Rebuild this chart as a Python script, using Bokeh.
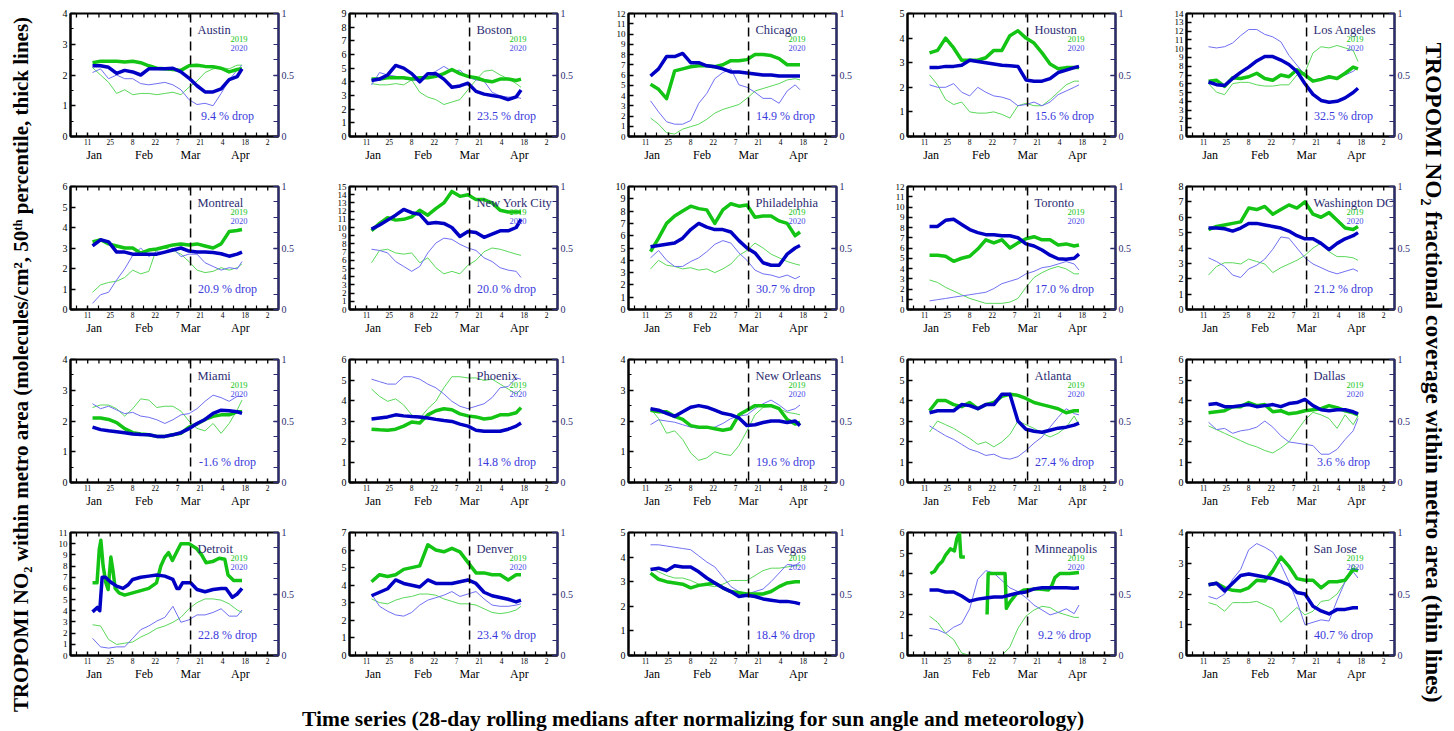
import math
import numpy as np
from bokeh.plotting import figure
from bokeh.layouts import row, column
from bokeh.models import Range1d, LinearAxis, FixedTicker, Span, Label
from bokeh.core.properties import value
from bokeh.embed import file_html
from bokeh.resources import INLINE

# ---------------- data (day of year; 2019 and 2020 on a common Jan-Apr axis) ----------------
DAYS = [14, 19, 24, 29, 34, 39, 44, 49, 54, 59, 64, 69, 74, 79, 84, 89, 94, 99, 104, 107]

DAY_TICKS = [11, 25, 39, 53, 67, 81, 95, 109, 123]
DAY_LABELS = ["11", "25", "8", "22", "7", "21", "4", "18", "2"]
MONTH_TICKS = [15, 46, 75, 106]
MONTH_LABELS = ["Jan", "Feb", "Mar", "Apr"]
EVENT_DAY = 75

CITIES = ["Austin", "Boston", "Chicago", "Houston", "Los Angeles",
          "Montreal", "New York City", "Philadelphia", "Toronto", "Washington DC",
          "Miami", "Phoenix", "New Orleans", "Atlanta", "Dallas",
          "Detroit", "Denver", "Las Vegas", "Minneapolis", "San Jose"]
Y_MAX = [4, 9, 12, 5, 14, 6, 15, 10, 12, 8, 4, 6, 4, 6, 6, 11, 7, 5, 6, 4]
DROP = ["9.4", "23.5", "14.9", "15.6", "32.5", "20.9", "20.0", "30.7", "17.0", "21.2",
        "-1.6", "14.8", "19.6", "27.4", "3.6", "22.8", "23.4", "18.4", "9.2", "40.7"]

AUSTIN_NO2_2019 = [2.40, 2.45, 2.45, 2.45, 2.42, 2.45, 2.40, 2.30, 2.22, 2.20, 2.18, 2.15, 2.30, 2.32, 2.28, 2.27, 2.22, 2.10, 2.18, 2.20]
AUSTIN_NO2_2020 = [2.30, 2.30, 2.25, 2.05, 2.15, 2.10, 2.00, 2.20, 2.20, 2.20, 2.22, 2.10, 1.90, 1.65, 1.45, 1.45, 1.55, 1.85, 1.95, 2.20]
AUSTIN_COV_2019 = [0.56, 0.50, 0.44, 0.35, 0.38, 0.34, 0.35, 0.35, 0.34, 0.35, 0.36, 0.34, 0.40, 0.45, 0.52, 0.55, 0.56, 0.55, 0.58, 0.58]
AUSTIN_COV_2020 = [0.52, 0.55, 0.47, 0.50, 0.47, 0.47, 0.43, 0.42, 0.43, 0.44, 0.42, 0.38, 0.30, 0.26, 0.27, 0.25, 0.35, 0.46, 0.54, 0.58]

BOSTON_NO2_2019 = [4.2, 4.2, 4.3, 4.3, 4.3, 4.2, 4.3, 4.3, 4.4, 4.6, 4.9, 4.6, 4.4, 4.3, 4.1, 4.0, 4.2, 4.2, 4.1, 4.2]
BOSTON_NO2_2020 = [4.1, 4.2, 4.5, 5.2, 5.0, 4.6, 4.0, 4.6, 4.6, 4.2, 3.6, 3.7, 3.9, 3.3, 3.1, 3.0, 2.9, 2.7, 2.9, 3.4]
BOSTON_COV_2019 = [0.43, 0.42, 0.42, 0.43, 0.42, 0.46, 0.36, 0.32, 0.30, 0.26, 0.28, 0.30, 0.38, 0.46, 0.53, 0.54, 0.50, 0.47, 0.43, 0.40]
BOSTON_COV_2020 = [0.42, 0.52, 0.50, 0.49, 0.47, 0.46, 0.45, 0.50, 0.53, 0.57, 0.53, 0.54, 0.48, 0.46, 0.45, 0.36, 0.33, 0.32, 0.32, 0.31]

CHICAGO_NO2_2019 = [5.1, 4.6, 3.7, 6.4, 6.6, 6.8, 6.9, 6.9, 6.8, 7.0, 7.4, 7.4, 7.5, 8.0, 8.0, 7.9, 7.6, 7.0, 7.0, 7.0]
CHICAGO_NO2_2020 = [5.9, 6.6, 7.8, 7.8, 8.1, 7.2, 7.2, 6.9, 6.8, 6.6, 6.3, 6.3, 6.2, 6.1, 6.0, 6.0, 5.9, 5.9, 5.9, 5.9]
CHICAGO_COV_2019 = [0.15, 0.10, 0.03, 0.02, 0.06, 0.08, 0.10, 0.14, 0.19, 0.22, 0.24, 0.26, 0.31, 0.37, 0.39, 0.41, 0.43, 0.46, 0.47, 0.46]
CHICAGO_COV_2020 = [0.29, 0.20, 0.12, 0.10, 0.10, 0.13, 0.27, 0.35, 0.47, 0.52, 0.55, 0.42, 0.40, 0.36, 0.31, 0.31, 0.27, 0.37, 0.42, 0.38]

HOUSTON_NO2_2019 = [3.4, 3.5, 4.0, 3.6, 3.1, 3.1, 3.1, 3.2, 3.5, 3.5, 4.1, 4.3, 4.0, 3.8, 3.4, 2.95, 2.75, 2.8, 2.8, 2.8]
HOUSTON_NO2_2020 = [2.8, 2.8, 2.85, 2.85, 2.9, 3.1, 3.05, 3.0, 2.95, 2.9, 2.88, 2.85, 2.3, 2.25, 2.25, 2.35, 2.6, 2.7, 2.8, 2.85]
HOUSTON_COV_2019 = [0.50, 0.42, 0.30, 0.26, 0.28, 0.20, 0.19, 0.19, 0.20, 0.18, 0.15, 0.25, 0.27, 0.25, 0.25, 0.30, 0.36, 0.42, 0.45, 0.45]
HOUSTON_COV_2020 = [0.42, 0.40, 0.40, 0.43, 0.36, 0.33, 0.40, 0.36, 0.33, 0.32, 0.30, 0.25, 0.26, 0.28, 0.25, 0.28, 0.34, 0.37, 0.40, 0.42]

LA_NO2_2019 = [6.3, 6.4, 5.7, 6.7, 6.6, 6.8, 7.2, 6.6, 6.4, 7.0, 6.8, 7.6, 7.0, 6.3, 6.5, 6.8, 6.6, 7.2, 7.9, 7.7]
LA_NO2_2020 = [6.2, 5.9, 5.8, 6.6, 7.3, 7.9, 8.6, 9.1, 9.1, 8.7, 8.2, 7.4, 6.0, 4.8, 4.1, 3.9, 4.0, 4.4, 5.0, 5.5]
LA_COV_2019 = [0.43, 0.36, 0.34, 0.43, 0.44, 0.44, 0.42, 0.41, 0.41, 0.42, 0.42, 0.50, 0.52, 0.68, 0.73, 0.72, 0.74, 0.72, 0.70, 0.61]
LA_COV_2020 = [0.73, 0.72, 0.73, 0.76, 0.82, 0.87, 0.87, 0.83, 0.81, 0.77, 0.66, 0.58, 0.50, 0.46, 0.47, 0.47, 0.48, 0.50, 0.53, 0.56]

MONTREAL_NO2_2019 = [3.3, 3.4, 3.2, 3.1, 3.0, 3.0, 2.75, 2.9, 2.95, 3.05, 3.15, 3.2, 3.15, 3.2, 3.1, 3.0, 3.2, 3.8, 3.85, 3.9]
MONTREAL_NO2_2020 = [3.1, 3.4, 3.3, 2.8, 2.8, 2.7, 2.7, 2.7, 2.7, 2.8, 2.9, 3.0, 2.85, 2.8, 2.8, 2.78, 2.72, 2.6, 2.7, 2.8]
MONTREAL_COV_2019 = [0.14, 0.20, 0.22, 0.23, 0.26, 0.32, 0.29, 0.31, 0.50, 0.50, 0.48, 0.45, 0.39, 0.32, 0.30, 0.31, 0.34, 0.32, 0.34, 0.37]
MONTREAL_COV_2020 = [0.05, 0.12, 0.14, 0.24, 0.33, 0.44, 0.50, 0.43, 0.47, 0.46, 0.50, 0.43, 0.45, 0.45, 0.38, 0.35, 0.32, 0.34, 0.33, 0.39]

NYC_NO2_2019 = [9.6, 10.5, 11.2, 10.9, 11.0, 11.3, 12.1, 11.5, 12.3, 13.0, 14.4, 13.8, 14.0, 13.4, 13.4, 13.0, 12.1, 11.9, 11.9, 11.9]
NYC_NO2_2020 = [9.8, 10.3, 10.9, 11.5, 12.2, 11.8, 11.6, 10.5, 10.6, 10.5, 10.0, 8.9, 9.5, 9.4, 8.8, 9.2, 9.6, 9.6, 10.0, 11.0]
NYC_COV_2019 = [0.38, 0.48, 0.49, 0.46, 0.45, 0.46, 0.38, 0.42, 0.34, 0.29, 0.31, 0.29, 0.36, 0.40, 0.47, 0.50, 0.49, 0.47, 0.45, 0.44]
NYC_COV_2020 = [0.49, 0.48, 0.46, 0.39, 0.35, 0.31, 0.35, 0.46, 0.54, 0.58, 0.57, 0.53, 0.50, 0.48, 0.42, 0.39, 0.34, 0.32, 0.31, 0.26]

PHILA_NO2_2019 = [4.7, 5.8, 7.0, 7.6, 8.0, 8.4, 8.2, 8.1, 7.0, 8.1, 8.6, 8.4, 8.5, 7.5, 7.6, 7.6, 7.2, 7.0, 6.0, 6.3]
PHILA_NO2_2020 = [5.1, 5.2, 5.3, 5.4, 5.8, 6.5, 7.0, 6.7, 6.5, 6.5, 6.3, 5.6, 5.0, 4.6, 3.8, 3.6, 3.6, 4.5, 5.0, 5.2]
PHILA_COV_2019 = [0.33, 0.40, 0.36, 0.35, 0.33, 0.34, 0.32, 0.33, 0.30, 0.33, 0.37, 0.44, 0.48, 0.54, 0.50, 0.45, 0.42, 0.39, 0.37, 0.36]
PHILA_COV_2020 = [0.42, 0.48, 0.40, 0.35, 0.35, 0.39, 0.42, 0.47, 0.53, 0.56, 0.54, 0.46, 0.40, 0.32, 0.29, 0.28, 0.26, 0.28, 0.25, 0.27]

TORONTO_NO2_2019 = [5.3, 5.3, 5.2, 4.7, 5.0, 5.2, 5.9, 6.8, 6.5, 6.8, 6.0, 6.5, 6.9, 7.1, 6.8, 6.8, 6.3, 6.4, 6.2, 6.3]
TORONTO_NO2_2020 = [8.1, 8.1, 8.7, 8.8, 8.3, 7.8, 7.5, 7.3, 7.3, 7.2, 7.2, 7.0, 6.4, 6.2, 5.8, 5.3, 4.95, 4.9, 5.0, 5.4]
TORONTO_COV_2019 = [0.24, 0.22, 0.18, 0.15, 0.12, 0.09, 0.07, 0.05, 0.05, 0.05, 0.06, 0.09, 0.18, 0.26, 0.30, 0.33, 0.35, 0.33, 0.29, 0.29]
TORONTO_COV_2020 = [0.07, 0.08, 0.09, 0.10, 0.11, 0.12, 0.13, 0.14, 0.17, 0.21, 0.23, 0.25, 0.29, 0.31, 0.34, 0.35, 0.37, 0.39, 0.37, 0.32]

DC_NO2_2019 = [5.2, 5.4, 5.5, 5.6, 5.7, 6.6, 6.5, 6.7, 6.2, 6.5, 6.8, 6.6, 7.0, 6.2, 6.0, 6.3, 5.8, 5.3, 5.2, 5.4]
DC_NO2_2020 = [5.3, 5.3, 5.25, 5.1, 5.3, 5.6, 5.6, 5.5, 5.4, 5.3, 5.1, 4.8, 4.6, 4.6, 4.3, 3.9, 4.3, 4.6, 4.8, 5.0]
DC_COV_2019 = [0.28, 0.35, 0.38, 0.38, 0.37, 0.41, 0.39, 0.37, 0.30, 0.34, 0.37, 0.40, 0.44, 0.50, 0.54, 0.47, 0.43, 0.43, 0.42, 0.40]
DC_COV_2020 = [0.42, 0.39, 0.35, 0.28, 0.26, 0.33, 0.36, 0.41, 0.49, 0.59, 0.58, 0.50, 0.42, 0.37, 0.34, 0.31, 0.29, 0.31, 0.33, 0.31]

MIAMI_NO2_2019 = [2.1, 2.1, 2.05, 1.95, 1.75, 1.62, 1.58, 1.55, 1.5, 1.5, 1.55, 1.6, 1.8, 1.9, 2.05, 2.15, 2.2, 2.2, 2.3, 2.3]
MIAMI_NO2_2020 = [1.8, 1.72, 1.68, 1.65, 1.62, 1.58, 1.56, 1.55, 1.5, 1.5, 1.55, 1.62, 1.75, 1.92, 2.05, 2.25, 2.35, 2.33, 2.3, 2.25]
MIAMI_COV_2019 = [0.61, 0.63, 0.63, 0.60, 0.54, 0.60, 0.68, 0.67, 0.61, 0.62, 0.62, 0.58, 0.50, 0.44, 0.42, 0.48, 0.40, 0.48, 0.59, 0.67]
MIAMI_COV_2020 = [0.64, 0.60, 0.62, 0.59, 0.56, 0.57, 0.54, 0.53, 0.51, 0.48, 0.51, 0.55, 0.56, 0.60, 0.66, 0.71, 0.69, 0.66, 0.70, 0.70]

PHOENIX_NO2_2019 = [2.6, 2.57, 2.55, 2.6, 2.75, 2.95, 2.9, 3.3, 3.5, 3.6, 3.55, 3.35, 3.25, 3.2, 3.1, 3.15, 3.3, 3.3, 3.4, 3.65]
PHOENIX_NO2_2020 = [3.1, 3.15, 3.2, 3.3, 3.25, 3.22, 3.2, 3.15, 3.08, 3.02, 2.98, 2.85, 2.75, 2.55, 2.5, 2.5, 2.5, 2.6, 2.75, 2.9]
PHOENIX_COV_2019 = [0.76, 0.70, 0.66, 0.68, 0.63, 0.55, 0.52, 0.60, 0.66, 0.77, 0.86, 0.86, 0.85, 0.85, 0.83, 0.84, 0.80, 0.76, 0.72, 0.76]
PHOENIX_COV_2020 = [0.84, 0.82, 0.80, 0.80, 0.86, 0.86, 0.84, 0.80, 0.77, 0.72, 0.66, 0.62, 0.60, 0.62, 0.64, 0.69, 0.77, 0.78, 0.85, 0.84]

NOLA_NO2_2019 = [2.35, 2.3, 2.3, 2.15, 2.05, 1.85, 1.8, 1.8, 1.75, 1.7, 1.75, 2.2, 2.35, 2.5, 2.5, 2.5, 2.4, 2.05, 1.9, 1.95]
NOLA_NO2_2020 = [2.4, 2.35, 2.25, 2.15, 2.3, 2.45, 2.5, 2.45, 2.35, 2.25, 2.2, 2.1, 1.85, 1.88, 1.95, 2.0, 2.0, 1.95, 2.0, 1.85]
NOLA_COV_2019 = [0.60, 0.52, 0.40, 0.42, 0.35, 0.24, 0.18, 0.20, 0.25, 0.23, 0.22, 0.30, 0.42, 0.55, 0.61, 0.62, 0.60, 0.57, 0.56, 0.55]
NOLA_COV_2020 = [0.47, 0.51, 0.50, 0.49, 0.47, 0.45, 0.44, 0.44, 0.45, 0.48, 0.52, 0.54, 0.55, 0.60, 0.64, 0.67, 0.63, 0.58, 0.60, 0.63]

ATL_NO2_2019 = [3.5, 4.0, 4.0, 3.8, 3.7, 3.9, 3.6, 3.8, 3.9, 4.2, 4.3, 4.25, 4.1, 3.9, 3.8, 3.7, 3.6, 3.4, 3.5, 3.5]
ATL_NO2_2020 = [3.4, 3.5, 3.5, 3.5, 3.8, 3.75, 3.6, 3.8, 3.8, 4.3, 4.3, 3.0, 2.6, 2.5, 2.45, 2.55, 2.65, 2.7, 2.8, 2.9]
ATL_COV_2019 = [0.41, 0.50, 0.47, 0.44, 0.40, 0.36, 0.31, 0.33, 0.29, 0.33, 0.39, 0.50, 0.47, 0.44, 0.40, 0.37, 0.40, 0.45, 0.54, 0.47]
ATL_COV_2020 = [0.46, 0.42, 0.38, 0.35, 0.31, 0.27, 0.25, 0.22, 0.23, 0.20, 0.19, 0.21, 0.26, 0.32, 0.37, 0.45, 0.53, 0.60, 0.56, 0.55]

DAL_NO2_2019 = [3.4, 3.45, 3.5, 3.7, 3.7, 3.9, 3.75, 3.8, 3.45, 3.5, 3.35, 3.4, 3.5, 3.55, 3.6, 3.75, 3.65, 3.5, 3.4, 3.3]
DAL_NO2_2020 = [3.8, 3.85, 3.7, 3.7, 3.75, 3.8, 3.7, 3.75, 3.8, 3.7, 3.85, 3.9, 4.05, 3.75, 3.55, 3.5, 3.55, 3.55, 3.45, 3.35]
DAL_COV_2019 = [0.46, 0.43, 0.40, 0.37, 0.34, 0.31, 0.29, 0.26, 0.24, 0.28, 0.33, 0.42, 0.51, 0.57, 0.55, 0.52, 0.44, 0.55, 0.47, 0.54]
DAL_COV_2020 = [0.49, 0.43, 0.44, 0.40, 0.42, 0.43, 0.45, 0.50, 0.45, 0.38, 0.33, 0.32, 0.31, 0.30, 0.23, 0.23, 0.27, 0.35, 0.42, 0.52]

DETROIT_DAYS_2019 = [14, 16.8, 18.2, 19.2, 20.6, 22.3, 23.7, 25.4, 26.8, 28.1, 30.5, 34, 39, 44, 49, 53.8,
                     56.5, 59, 61.3, 63.7, 66.5, 69, 74, 78.5, 81.9, 84.6, 88.7, 92.8, 96.3, 98.3, 101.8, 107]
DETROIT_NO2_2019 = [6.5, 6.5, 9.5, 10.3, 8.0, 6.5, 5.9, 8.8, 7.5, 6.0, 5.6, 5.4, 5.6, 5.8, 6.0, 6.5,
                    8.0, 8.8, 9.2, 8.5, 9.3, 10.0, 10.0, 9.6, 9.0, 8.3, 8.4, 8.7, 8.6, 7.2, 6.7, 6.7]
DETROIT_DAYS_2020 = [14, 17, 18.5, 20, 22, 25, 29, 33, 36, 39, 44, 49, 54, 59, 64, 66.5, 68, 70, 75, 79,
                     84, 89, 94, 97, 99.5, 101, 104, 107]
DETROIT_NO2_2020 = [3.9, 4.3, 4.0, 7.0, 7.0, 6.6, 6.2, 6.0, 6.3, 6.8, 7.0, 7.1, 7.2, 7.1, 6.8, 6.0, 6.0, 6.5, 6.5, 5.9,
                    5.7, 5.9, 6.0, 6.0, 5.5, 5.2, 5.5, 6.0]
DETROIT_COV_2019 = [0.25, 0.24, 0.13, 0.09, 0.10, 0.11, 0.15, 0.18, 0.22, 0.24, 0.27, 0.31, 0.38, 0.43, 0.46, 0.46, 0.45, 0.42, 0.37, 0.35]
DETROIT_COV_2020 = [0.14, 0.07, 0.06, 0.07, 0.07, 0.14, 0.21, 0.24, 0.28, 0.31, 0.40, 0.27, 0.29, 0.33, 0.33, 0.35, 0.38, 0.32, 0.32, 0.37]

DEN_NO2_2019 = [4.2, 4.6, 4.5, 4.6, 4.9, 5.0, 5.1, 6.3, 6.0, 5.9, 6.1, 5.9, 5.3, 4.7, 4.7, 4.6, 4.6, 4.3, 4.6, 4.6]
DEN_NO2_2020 = [3.4, 3.6, 3.8, 4.3, 4.1, 4.0, 3.9, 4.3, 4.1, 4.1, 4.1, 4.2, 4.3, 4.1, 3.6, 3.4, 3.3, 3.2, 3.05, 3.15]
DEN_COV_2019 = [0.46, 0.43, 0.42, 0.45, 0.47, 0.48, 0.50, 0.50, 0.49, 0.46, 0.44, 0.42, 0.42, 0.41, 0.38, 0.35, 0.34, 0.35, 0.37, 0.40]
DEN_COV_2020 = [0.50, 0.40, 0.36, 0.33, 0.32, 0.35, 0.41, 0.45, 0.47, 0.49, 0.52, 0.48, 0.50, 0.52, 0.46, 0.41, 0.40, 0.40, 0.41, 0.42]

LV_NO2_2019 = [3.35, 3.1, 3.0, 2.95, 2.9, 2.75, 2.85, 2.9, 2.95, 2.75, 2.6, 2.55, 2.5, 2.5, 2.5, 2.6, 2.8, 2.95, 3.0, 3.0]
LV_NO2_2020 = [3.5, 3.55, 3.45, 3.65, 3.6, 3.6, 3.4, 3.15, 2.95, 2.75, 2.6, 2.4, 2.45, 2.4, 2.3, 2.25, 2.2, 2.2, 2.15, 2.1]
LV_COV_2019 = [0.71, 0.68, 0.65, 0.63, 0.63, 0.61, 0.58, 0.57, 0.56, 0.58, 0.61, 0.61, 0.61, 0.65, 0.69, 0.71, 0.71, 0.72, 0.73, 0.73]
LV_COV_2020 = [0.90, 0.90, 0.89, 0.88, 0.87, 0.86, 0.81, 0.76, 0.72, 0.64, 0.56, 0.52, 0.50, 0.52, 0.54, 0.60, 0.67, 0.74, 0.73, 0.76]

MSP_DAYS_2019 = [14.5, 17, 19.5, 22, 24, 27, 29.5, 31, 32.6, 33.5, 36, 43, 49.8, 50.5, 61, 61.8, 64, 68, 73, 81,
                 88, 90, 92, 95, 101, 107]
MSP_NO2_2019 = [4.0, 4.1, 4.4, 4.6, 4.9, 5.2, 5.1, 5.7, 6.0, 4.8, 4.8, float("nan"), 2.0, 4.0, 4.0, 2.3, 2.6, 3.0, 3.2, 3.25,
                3.2, 3.4, 3.8, 4.0, 4.0, 4.05]
MSP_NO2_2020 = [3.2, 3.2, 3.1, 3.1, 2.9, 2.65, 2.75, 2.8, 2.85, 2.85, 2.95, 3.05, 3.1, 3.25, 3.3, 3.3, 3.3, 3.3, 3.28, 3.3]
MSP_COV_2019 = [0.32, 0.27, 0.18, 0.13, 0.02, 0.0, 0.0, 0.0, 0.0, 0.0, 0.07, 0.22, 0.32, 0.37, 0.40, 0.39, 0.35, 0.33, 0.31, 0.31]
MSP_COV_2020 = [0.22, 0.21, 0.18, 0.23, 0.26, 0.38, 0.62, 0.69, 0.67, 0.61, 0.55, 0.52, 0.47, 0.41, 0.37, 0.33, 0.35, 0.38, 0.34, 0.41]

SJ_NO2_2019 = [2.3, 2.35, 2.2, 2.12, 2.1, 2.2, 2.45, 2.42, 2.75, 3.2, 2.9, 2.5, 2.45, 2.45, 2.2, 2.4, 2.4, 2.45, 2.8, 2.75]
SJ_NO2_2020 = [2.3, 2.35, 2.1, 2.35, 2.6, 2.65, 2.6, 2.55, 2.5, 2.4, 2.3, 2.05, 2.0, 1.6, 1.45, 1.35, 1.5, 1.5, 1.55, 1.55]
SJ_COV_2019 = [0.43, 0.41, 0.36, 0.43, 0.43, 0.43, 0.44, 0.41, 0.38, 0.27, 0.33, 0.39, 0.33, 0.36, 0.44, 0.45, 0.50, 0.60, 0.74, 0.70]
SJ_COV_2020 = [0.48, 0.46, 0.50, 0.62, 0.70, 0.86, 0.91, 0.88, 0.84, 0.74, 0.60, 0.44, 0.25, 0.27, 0.29, 0.28, 0.45, 0.60, 0.68, 0.63]

SERIES = [
    (DAYS, AUSTIN_NO2_2019, DAYS, AUSTIN_NO2_2020, AUSTIN_COV_2019, AUSTIN_COV_2020),
    (DAYS, BOSTON_NO2_2019, DAYS, BOSTON_NO2_2020, BOSTON_COV_2019, BOSTON_COV_2020),
    (DAYS, CHICAGO_NO2_2019, DAYS, CHICAGO_NO2_2020, CHICAGO_COV_2019, CHICAGO_COV_2020),
    (DAYS, HOUSTON_NO2_2019, DAYS, HOUSTON_NO2_2020, HOUSTON_COV_2019, HOUSTON_COV_2020),
    (DAYS, LA_NO2_2019, DAYS, LA_NO2_2020, LA_COV_2019, LA_COV_2020),
    (DAYS, MONTREAL_NO2_2019, DAYS, MONTREAL_NO2_2020, MONTREAL_COV_2019, MONTREAL_COV_2020),
    (DAYS, NYC_NO2_2019, DAYS, NYC_NO2_2020, NYC_COV_2019, NYC_COV_2020),
    (DAYS, PHILA_NO2_2019, DAYS, PHILA_NO2_2020, PHILA_COV_2019, PHILA_COV_2020),
    (DAYS, TORONTO_NO2_2019, DAYS, TORONTO_NO2_2020, TORONTO_COV_2019, TORONTO_COV_2020),
    (DAYS, DC_NO2_2019, DAYS, DC_NO2_2020, DC_COV_2019, DC_COV_2020),
    (DAYS, MIAMI_NO2_2019, DAYS, MIAMI_NO2_2020, MIAMI_COV_2019, MIAMI_COV_2020),
    (DAYS, PHOENIX_NO2_2019, DAYS, PHOENIX_NO2_2020, PHOENIX_COV_2019, PHOENIX_COV_2020),
    (DAYS, NOLA_NO2_2019, DAYS, NOLA_NO2_2020, NOLA_COV_2019, NOLA_COV_2020),
    (DAYS, ATL_NO2_2019, DAYS, ATL_NO2_2020, ATL_COV_2019, ATL_COV_2020),
    (DAYS, DAL_NO2_2019, DAYS, DAL_NO2_2020, DAL_COV_2019, DAL_COV_2020),
    (DETROIT_DAYS_2019, DETROIT_NO2_2019, DETROIT_DAYS_2020, DETROIT_NO2_2020, DETROIT_COV_2019, DETROIT_COV_2020),
    (DAYS, DEN_NO2_2019, DAYS, DEN_NO2_2020, DEN_COV_2019, DEN_COV_2020),
    (DAYS, LV_NO2_2019, DAYS, LV_NO2_2020, LV_COV_2019, LV_COV_2020),
    (MSP_DAYS_2019, MSP_NO2_2019, DAYS, MSP_NO2_2020, MSP_COV_2019, MSP_COV_2020),
    (DAYS, SJ_NO2_2019, DAYS, SJ_NO2_2020, SJ_COV_2019, SJ_COV_2020),
]

LEFT_TITLE = "TROPOMI NO\u2082 within metro area (molecules/cm\u00b2, 50\u1d57\u02b0 percentile, thick lines)"
RIGHT_TITLE = "TROPOMI NO\u2082 fractional coverage within metro area (thin lines)"
BOTTOM_TITLE = "Time series (28-day rolling medians after normalizing for sun angle and meteorology)"

# ---------------- styling ----------------
FONT = "Liberation Serif"
GREEN_THICK = "#14c414"
BLUE_THICK = "#0000c4"
GREEN_THIN = "#5ad85a"
BLUE_THIN = "#7070f2"
NAVY = "#2c2c72"
DROP_BLUE = "#3a3adc"
X_LO, X_HI = 0.3, 129.7
FRAME_W, FRAME_H = 208, 123
TICK_PX = 4


def style_axis(ax, color="black", tick_in=5, minor_in=3, size="10px", standoff=3):
    ax.axis_line_width = 2
    ax.axis_line_color = color
    ax.major_tick_line_color = color
    ax.minor_tick_line_color = color
    ax.major_tick_line_width = 1.5
    ax.minor_tick_line_width = 1.2
    ax.major_tick_in = tick_in
    ax.major_tick_out = 0
    ax.minor_tick_in = minor_in
    ax.minor_tick_out = 0
    ax.major_label_text_color = color
    ax.major_label_text_font = FONT
    ax.major_label_text_font_size = size
    ax.major_label_standoff = standoff


def make_panel(idx):
    name, ymax, drop = CITIES[idx], Y_MAX[idx], DROP[idx]
    d19, n19, d20, n20, c19, c20 = SERIES[idx]
    last_col = idx % 5 == 4
    first_row = idx // 5 == 0
    last_row = idx // 5 == 3
    top_border = 13 if first_row else 5
    bottom_border = 38 if last_row else 45
    p = figure(width=267 if last_col else 279, height=FRAME_H + top_border + bottom_border,
               x_range=Range1d(X_LO, X_HI), y_range=Range1d(0, ymax),
               x_axis_type=None, y_axis_type=None, toolbar_location=None,
               output_backend="svg",
               min_border_left=35, min_border_right=24 if last_col else 36,
               min_border_top=top_border, min_border_bottom=bottom_border)
    p.outline_line_color = "black"
    p.outline_line_width = 2
    p.background_fill_color = "white"
    p.extra_y_ranges = {"cov": Range1d(0, 1)}

    minor_days = [t - 7 for t in DAY_TICKS] + [DAY_TICKS[-1] + 7]
    day_ax = LinearAxis(ticker=FixedTicker(ticks=DAY_TICKS, minor_ticks=minor_days),
                        major_label_overrides={t: l for t, l in zip(DAY_TICKS, DAY_LABELS)})
    style_axis(day_ax, tick_in=TICK_PX, minor_in=TICK_PX, size="7.5px", standoff=2)
    p.add_layout(day_ax, "below")

    mon_ax = LinearAxis(ticker=FixedTicker(ticks=MONTH_TICKS, minor_ticks=[]),
                        major_label_overrides={t: l for t, l in zip(MONTH_TICKS, MONTH_LABELS)})
    style_axis(mon_ax, size="12px", standoff=0)
    mon_ax.axis_line_color = None
    mon_ax.major_tick_line_color = None
    mon_ax.minor_tick_line_color = None
    p.add_layout(mon_ax, "below")

    # tick marks along the top edge of the frame (same day ticks as the bottom axis)
    top_ticks = [t for t in sorted(DAY_TICKS + minor_days) if X_LO < t < X_HI]
    tick_len = ymax * TICK_PX / FRAME_H
    p.segment(x0=top_ticks, y0=[ymax] * len(top_ticks), x1=top_ticks,
              y1=[ymax - tick_len] * len(top_ticks), line_color="black", line_width=1.3)

    yt = list(range(0, ymax + 1))
    ym = [k + 0.5 for k in range(ymax)] if ymax <= 4 else []
    left_ax = LinearAxis(ticker=FixedTicker(ticks=yt, minor_ticks=ym))
    style_axis(left_ax, size="10px" if ymax <= 10 else "9px", standoff=3)
    p.add_layout(left_ax, "left")

    right_ax = LinearAxis(y_range_name="cov",
                          ticker=FixedTicker(ticks=[0, 0.5, 1], minor_ticks=[k / 8 for k in range(9)]),
                          major_label_overrides={0: "0", 0.5: "0.5", 1: "1"})
    style_axis(right_ax, color=NAVY, tick_in=5, minor_in=5, size="10px", standoff=3)
    p.add_layout(right_ax, "right")

    p.add_layout(Span(location=EVENT_DAY, dimension="height", line_color="black",
                      line_dash="9 5", line_width=1.5))

    p.line(np.array(DAYS, dtype=float), np.array(c19, dtype=float), y_range_name="cov",
           line_color=GREEN_THIN, line_width=1)
    p.line(np.array(DAYS, dtype=float), np.array(c20, dtype=float), y_range_name="cov",
           line_color=BLUE_THIN, line_width=1)
    p.line(np.array(d19, dtype=float), np.array(n19, dtype=float),
           line_color=GREEN_THICK, line_width=3.5, line_join="round")
    p.line(np.array(d20, dtype=float), np.array(n20, dtype=float),
           line_color=BLUE_THICK, line_width=3.5, line_join="round")

    def yat(px):
        return ymax * (1 - px / FRAME_H)

    p.add_layout(Label(x=X_LO + 127 / FRAME_W * (X_HI - X_LO), y=yat(16), text=name,
                       text_align="left", text_baseline="middle", text_font=FONT,
                       text_font_size="12.5px", text_color=NAVY))
    xr = X_LO + 177 / FRAME_W * (X_HI - X_LO)
    p.add_layout(Label(x=xr, y=yat(25), text="2019", text_align="right", text_baseline="middle",
                       text_font=FONT, text_font_size="8.5px", text_color=GREEN_THICK))
    p.add_layout(Label(x=xr, y=yat(34), text="2020", text_align="right", text_baseline="middle",
                       text_font=FONT, text_font_size="8.5px", text_color="#4a4ae6"))
    p.add_layout(Label(x=X_LO + 157 / FRAME_W * (X_HI - X_LO), y=yat(102), text=f"{drop} % drop",
                       text_align="center", text_baseline="middle", text_font=FONT,
                       text_font_size="12px", text_color=DROP_BLUE))
    return p


def text_fig(w, h, x, y, txt, angle, size, bold=True):
    f = figure(width=w, height=h, x_range=Range1d(0, w), y_range=Range1d(0, h),
               x_axis_type=None, y_axis_type=None, toolbar_location=None,
               output_backend="svg", min_border=0)
    f.outline_line_color = None
    f.text(x=[x], y=[y], text=[txt], angle=angle, text_align="center", text_baseline="middle",
           text_font=value(FONT), text_font_size=size,
           text_font_style="bold" if bold else "normal", text_color="black")
    return f


panels = [make_panel(i) for i in range(20)]
grid = column(*[row(*panels[r * 5:(r + 1) * 5]) for r in range(4)])   # 693 px tall, 1383 wide
bottom = text_fig(1383, 38, 658, 13, BOTTOM_TITLE, 0, "21.5px")
left = text_fig(35, 731, 20, 367, LEFT_TITLE, math.pi / 2, "21px")
right = text_fig(36, 731, 15, 359, RIGHT_TITLE, -math.pi / 2, "23.5px")
page = row(left, column(grid, bottom), right)

open("out.html", "w").write(file_html(page, INLINE))
